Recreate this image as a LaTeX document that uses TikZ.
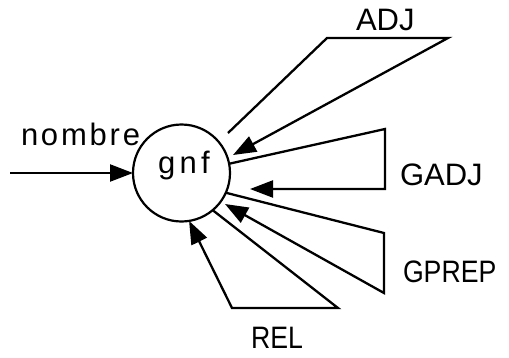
\documentclass[tikz,border=0pt]{standalone}
\usepackage{fontspec}
\setmainfont{Liberation Sans}
\newfontfamily\spacedfont[LetterSpace=9]{Liberation Sans}
\newfontfamily\widefont[LetterSpace=14]{Liberation Sans}
\newfontfamily\narrowfont[FakeStretch=0.86]{Liberation Sans}
\usetikzlibrary{arrows.meta}
\begin{document}
\begin{tikzpicture}[x=1pt,y=1pt,
  wire/.style={line width=2.3pt},
  arr/.style={wire,-{Triangle[length=23pt,width=17pt]}},
  state/.style={circle,draw,line width=2.2pt,minimum size=97pt,inner sep=0pt,outer sep=0pt},
  lbl/.style={inner sep=0pt,outer sep=0pt,anchor=base west,font=\fontsize{31}{37}\selectfont}]
\useasboundingbox (0,0) rectangle (509,-357);

% central state
\node[state] (g) at (181.5,-173) {};
\node[lbl,font=\fontsize{31}{37}\widefont] (gt) at (158,-173) {gnf};

% entry arc
\coordinate (in) at (10,-173);
\node[lbl,font=\fontsize{31}{37}\spacedfont] (nom) at (21,-145) {nombre};
\draw[arr] (in) -- (g);

% ADJ loop
\coordinate (adjS) at (228,-133);
\coordinate (adjA) at (327,-38);
\coordinate (adjB) at (448,-38);
\coordinate (adjE) at (233,-155);
\draw[arr] (adjS) -- (adjA) -- (adjB) -- (adjE);
\node[lbl] (adj) at (356,-30) {ADJ};

% GADJ loop
\coordinate (gadjA) at (385,-129);
\coordinate (gadjB) at (385,-189);
\coordinate (gadjE) at (250,-189);
\draw[arr] (g.11) -- (gadjA) -- (gadjB) -- (gadjE);
\node[lbl] (gadj) at (400,-185) {GADJ};

% GPREP loop
\coordinate (gprepA) at (384,-233);
\coordinate (gprepB) at (384,-293);
\coordinate (gprepE) at (225,-204);
\draw[arr] (g.-24) -- (gprepA) -- (gprepB) -- (gprepE);
\node[lbl,font=\fontsize{31}{37}\narrowfont] (gprep) at (403,-282) {GPREP};

% REL loop
\coordinate (relA) at (338,-308);
\coordinate (relB) at (232,-308);
\draw[arr] (g.-50) -- (relA) -- (relB) -- (g.-81);
\node[lbl,font=\fontsize{31}{37}\narrowfont] (rel) at (251,-348) {REL};
\end{tikzpicture}
\end{document}
